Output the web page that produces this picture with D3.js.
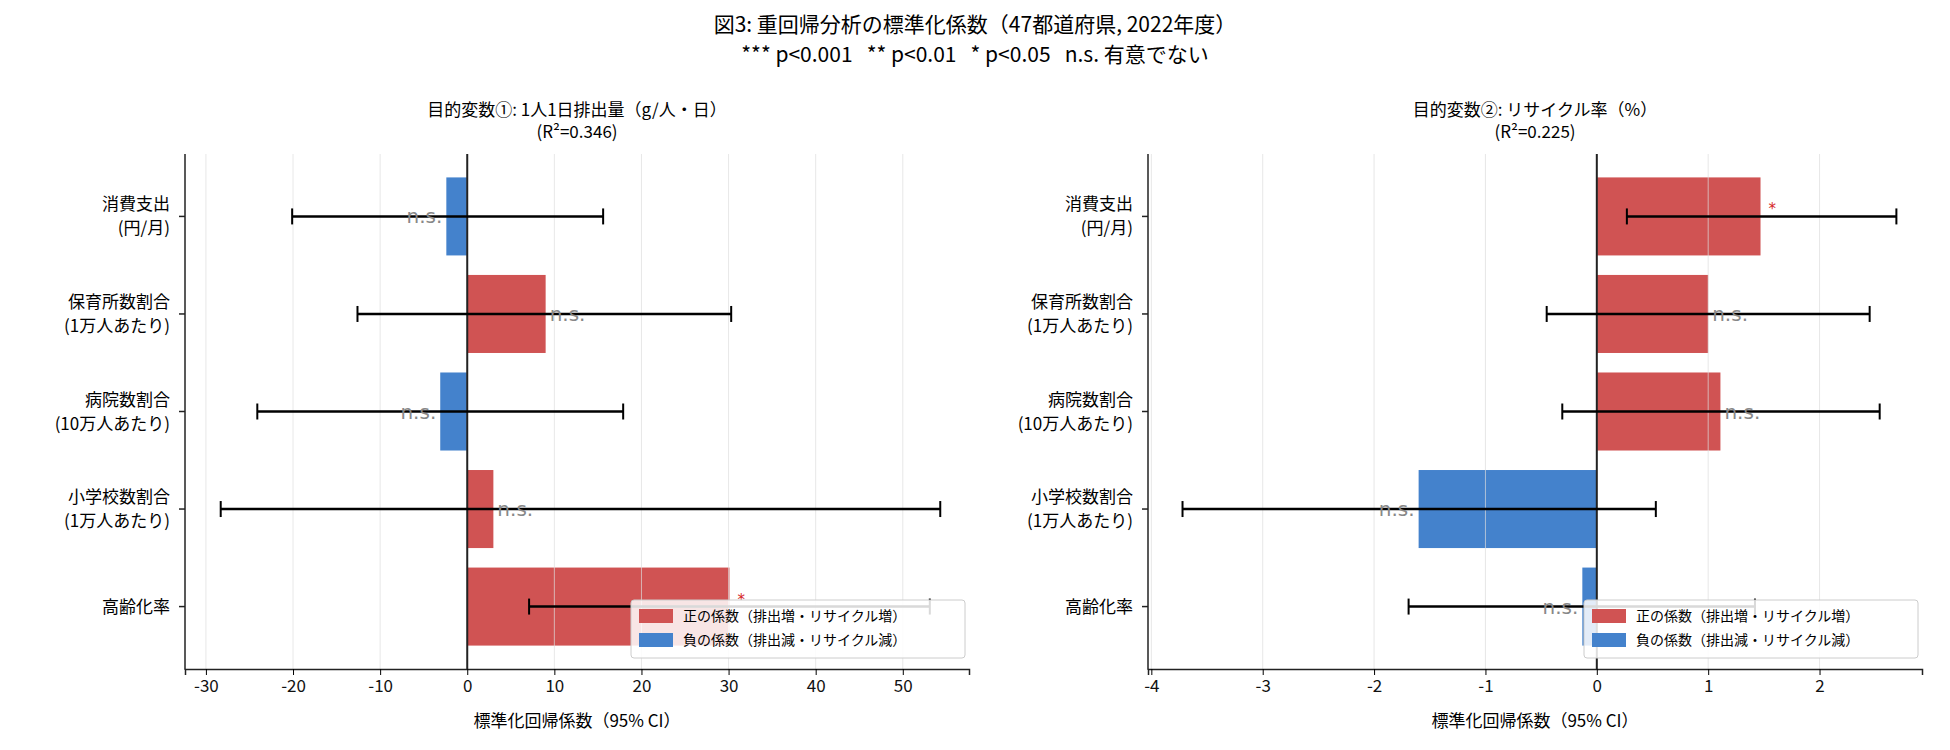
<!DOCTYPE html>
<html><head><meta charset="utf-8">
<script src="https://cdn.jsdelivr.net/npm/d3@7"></script>
<style>body{margin:0;background:#fff}text{font-family:"Noto Sans CJK JP","Noto Sans",sans-serif}</style>
</head><body><svg id="c" width="1950" height="750"></svg>
<script>
const categories = ["消費支出\n(円/月)","保育所数割合\n(1万人あたり)","病院数割合\n(10万人あたり)","小学校数割合\n(1万人あたり)","高齢化率"];
const coefA = [-2.4, 9.0, -3.1, 3.0, 30.1];
const loA = [-20.1, -12.6, -24.1, -28.3, 7.1];
const hiA = [15.6, 30.3, 17.9, 54.3, 53.1];
const sigA = ["n.s.","n.s.","n.s.","n.s.","*"];
const coefB = [1.47, 1.0, 1.11, -1.6, -0.13];
const loB = [0.27, -0.45, -0.31, -3.72, -1.69];
const hiB = [2.69, 2.45, 2.54, 0.53, 1.42];
const sigB = ["*","n.s.","n.s.","n.s.","n.s."];
const ticksA = [-30,-20,-10,0,10,20,30,40,50];
const ticksB = [-4,-3,-2,-1,0,1,2];
const RED="#d05353", BLUE="#4482cc";
const svg=d3.select("#c");
svg.append("text").attr("x",975).attr("y",32).attr("text-anchor","middle").style("font-size","21px").text("図3: 重回帰分析の標準化係数（47都道府県, 2022年度）");
svg.append("text").attr("x",975).attr("y",62).attr("text-anchor","middle").style("font-size","21px").attr("xml:space","preserve").text("*** p<0.001   ** p<0.01   * p<0.05   n.s. 有意でない");

function panel(x0,x1,dom,ticks,coef,lo,hi,sig,title,r2){
  const top=154,bot=669;
  const x=d3.scaleLinear().domain(dom).range([x0,x1]);
  const y=d3.scaleLinear().domain([-0.64,4.64]).range([top,bot]);
  const bh=(y(1)-y(0))*0.8;
  const g=svg.append("g");
  const mid=(x0+x1)/2;
  g.append("text").attr("x",mid).attr("y",116).attr("text-anchor","middle").style("font-size","17px").text(title);
  g.append("text").attr("x",mid).attr("y",138).attr("text-anchor","middle").style("font-size","17px").text(r2);
  coef.forEach((v,i)=>{
    g.append("rect").attr("x",x(Math.min(0,v))).attr("width",Math.abs(x(v)-x(0))).attr("y",y(i)-bh/2).attr("height",bh).attr("fill",v>=0?RED:BLUE);
  });
  ticks.forEach(t=>g.append("line").attr("x1",x(t)).attr("x2",x(t)).attr("y1",top).attr("y2",bot).attr("stroke","#ddd").attr("stroke-opacity",0.7));
  g.append("line").attr("x1",x(0)).attr("x2",x(0)).attr("y1",top).attr("y2",bot).attr("stroke","#222").attr("stroke-width",2);
  coef.forEach((v,i)=>{
    const yy=y(i);
    g.append("line").attr("x1",x(lo[i])).attr("x2",x(hi[i])).attr("y1",yy).attr("y2",yy).attr("stroke","#000").attr("stroke-width",2.5);
    [lo[i],hi[i]].forEach(e=>g.append("line").attr("x1",x(e)).attr("x2",x(e)).attr("y1",yy-8).attr("y2",yy+8).attr("stroke","#000").attr("stroke-width",2));
    const star=sig[i]!=="n.s.";
    const tx=v>=0?x(v)+(star?8:4):x(v)-4;
    g.append("text").attr("x",tx).attr("y",star?yy-2:yy+7).attr("text-anchor",v>=0?"start":"end")
      .style("font-size",star?"15px":"20px").style("font-family","'DejaVu Sans',sans-serif").attr("fill",star?"#d62728":"#888").text(sig[i]);
  });
  const xa=g.append("g").attr("transform",`translate(0,${bot})`).call(d3.axisBottom(x).tickValues(ticks).tickFormat(d=>d).tickSize(6));
  xa.select(".domain").attr("stroke","#222").attr("stroke-width",1.5);
  xa.selectAll("text").style("font-size","17px").attr("fill","#111").attr("dy","0.85em");
  g.append("line").attr("x1",x0).attr("x2",x0).attr("y1",top).attr("y2",bot+0.75).attr("stroke","#222").attr("stroke-width",1.5);
  categories.forEach((c,i)=>{
    g.append("line").attr("x1",x0-6).attr("x2",x0).attr("y1",y(i)).attr("y2",y(i)).attr("stroke","#222").attr("stroke-width",1.5);
    const ls=c.split("\n");
    ls.forEach((l,k)=>g.append("text").attr("x",x0-15).attr("y",y(i)+6+(k-(ls.length-1)/2)*24).attr("text-anchor","end").style("font-size","17px").text(l));
  });
  g.append("text").attr("x",mid).attr("y",727).attr("text-anchor","middle").style("font-size","17px").text("標準化回帰係数（95% CI）");
  const lx=x1-338, ly=600;
  g.append("rect").attr("x",lx).attr("y",ly).attr("width",334).attr("height",58).attr("rx",3).attr("fill","#fff").attr("fill-opacity",0.85).attr("stroke","#ccc");
  [[RED,"正の係数（排出増・リサイクル増）"],[BLUE,"負の係数（排出減・リサイクル減）"]].forEach((d,k)=>{
    g.append("rect").attr("x",lx+8).attr("y",ly+9+k*24).attr("width",34).attr("height",14).attr("fill",d[0]);
    g.append("text").attr("x",lx+52).attr("y",ly+21+k*24).style("font-size","14px").text(d[1]);
  });
}
panel(185,969,[-32.4,57.6],ticksA,coefA,loA,hiA,sigA,"目的変数①: 1人1日排出量（g/人・日）","(R²=0.346)");
panel(1148,1922,[-4.03,2.92],ticksB,coefB,loB,hiB,sigB,"目的変数②: リサイクル率（%）","(R²=0.225)");
</script></body></html>
